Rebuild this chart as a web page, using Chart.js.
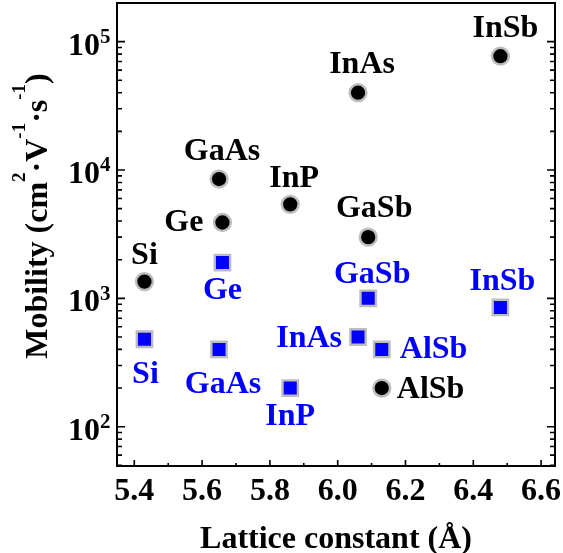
<!DOCTYPE html>
<html>
<head>
<meta charset="utf-8">
<script src="https://cdn.jsdelivr.net/npm/chart.js@4.4.0/dist/chart.umd.min.js"></script>
<style>
  body { margin: 0; background: #fff; }
  canvas { display: block; }
</style>
</head>
<body>
<canvas id="chartMobility" width="563" height="553"></canvas>
<script>
// lattice constant (Å) and room temperature mobilities (cm2/Vs)
const materials = ['Si', 'Ge', 'GaAs', 'InP', 'InAs', 'GaSb', 'AlSb', 'InSb']
const latticeConst = [5.43, 5.66, 5.65, 5.86, 6.06, 6.09, 6.13, 6.48]
const electronMob = [1350, 3900, 8500, 5400, 40000, 3000, 200, 77000]
const holeMob = [480, 1900, 400, 200, 500, 1000, 400, 850]
const xTicks = [5.4, 5.6, 5.8, 6.0, 6.2, 6.4, 6.6]
const yDecades = [2, 3, 4, 5]

// where each name sits next to its marker: [dx, dy to baseline, align]
const electronLabelPos = [
  [0, -18, 'center'], [-19, 9, 'right'], [3, -19, 'center'], [4, -17, 'center'],
  [4, -20, 'center'], [6, -20, 'center'], [15, 10, 'left'], [5, -19, 'center']
]
const holeLabelPos = [
  [1, 44, 'center'], [0, 36, 'center'], [4, 44, 'center'], [0, 37, 'center'],
  [-16, 10, 'right'], [4, -15, 'center'], [18, 9, 'left'], [2, -17, 'center']
]

const FONT = '"Liberation Serif", "Times New Roman", serif'
const BLUE = '#0000ff'

const labelsPlugin = {
  id: 'pointNames',
  afterDatasetsDraw(chart) {
    const ctx = chart.ctx
    const spots = [electronLabelPos, holeLabelPos]
    const colors = ['#000', BLUE]
    ctx.save()
    ctx.font = 'bold 32px ' + FONT
    ctx.textBaseline = 'alphabetic'
    chart.data.datasets.forEach((ds, i) => {
      chart.getDatasetMeta(i).data.forEach((pt, j) => {
        const [dx, dy, align] = spots[i][j]
        ctx.fillStyle = colors[i]
        ctx.textAlign = align
        ctx.fillText(materials[j], pt.x + dx, pt.y + dy)
      })
    })
    ctx.restore()
  }
}

const framePlugin = {
  id: 'frameAndTicks',
  afterDraw(chart) {
    const { ctx, chartArea: a, scales: { x, y } } = chart
    ctx.save()
    ctx.strokeStyle = '#000'
    ctx.lineWidth = 2
    ctx.strokeRect(a.left, a.top, a.right - a.left, a.bottom - a.top)

    // inward ticks: x on the bottom, y on both sides
    ctx.lineWidth = 1.6
    ctx.beginPath()
    xTicks.forEach((v, i) => {
      const px = x.getPixelForValue(v)
      ctx.moveTo(px, a.bottom); ctx.lineTo(px, a.bottom - 6)
      if (i < xTicks.length - 1) {
        const mx = x.getPixelForValue((v + xTicks[i + 1]) / 2)
        ctx.moveTo(mx, a.bottom); ctx.lineTo(mx, a.bottom - 3)
      }
    })
    for (let d = 1; d <= 5; d++) {
      for (let m = 1; m <= 9; m++) {
        const v = m * Math.pow(10, d)
        if (v < y.min || v > y.max) continue
        const py = y.getPixelForValue(v)
        const len = m === 1 ? 8 : 5
        ctx.moveTo(a.left, py); ctx.lineTo(a.left + len, py)
        ctx.moveTo(a.right, py); ctx.lineTo(a.right - len, py)
      }
    }
    ctx.stroke()

    // tick labels
    ctx.fillStyle = '#000'
    ctx.textBaseline = 'alphabetic'
    ctx.font = 'bold 32px ' + FONT
    ctx.textAlign = 'center'
    xTicks.forEach(v => {
      ctx.fillText(v.toFixed(1), x.getPixelForValue(v), a.bottom + 34)
    })
    yDecades.forEach(d => {
      const py = y.getPixelForValue(Math.pow(10, d))
      ctx.font = 'bold 32px ' + FONT
      ctx.textAlign = 'right'
      ctx.fillText('10', a.left - 17, py + 13)
      ctx.font = 'bold 21px ' + FONT
      ctx.textAlign = 'left'
      ctx.fillText(String(d), a.left - 17, py + 1.5)
    })

    // axis titles
    ctx.font = 'bold 32px ' + FONT
    ctx.textAlign = 'center'
    ctx.fillText('Lattice constant (Å)', (a.left + a.right) / 2, a.bottom + 82)

    const parts = [
      ['Mobility (cm', false], ['2', true], ['·V', false], ['-1', true],
      ['·s', false], ['-1', true], [')', false]
    ]
    const fontFor = sup => sup ? 'bold 19px ' + FONT : 'bold 32px ' + FONT
    let total = 0
    parts.forEach(([t, sup]) => { ctx.font = fontFor(sup); total += ctx.measureText(t).width })
    ctx.translate(47, 216)
    ctx.rotate(-Math.PI / 2)
    ctx.textAlign = 'left'
    let pos = -total / 2
    parts.forEach(([t, sup]) => {
      ctx.font = fontFor(sup)
      ctx.fillText(t, pos, sup ? -22 : 0)
      pos += ctx.measureText(t).width
    })
    ctx.restore()
  }
}

const toPoints = ys => latticeConst.map((v, i) => ({ x: v, y: ys[i] }))

const ctx = document.getElementById('chartMobility').getContext('2d')
new Chart(ctx, {
  type: 'scatter',
  data: {
    datasets: [{
      label: 'Electron',
      data: toPoints(electronMob),
      pointStyle: 'circle',
      pointRadius: 8.4,
      pointBorderWidth: 2.5,
      backgroundColor: '#000',
      borderColor: '#bdbdbd'
    }, {
      label: 'Hole',
      data: toPoints(holeMob),
      pointStyle: 'rect',
      pointRadius: 10.9,
      pointBorderWidth: 2.4,
      backgroundColor: BLUE,
      borderColor: '#bdbdbd'
    }]
  },
  options: {
    responsive: false,
    animation: false,
    layout: { autoPadding: false, padding: { left: 117, top: 3, right: 8, bottom: 87 } },
    plugins: {
      legend: { display: false },
      tooltip: { enabled: false }
    },
    scales: {
      x: { type: 'linear', min: 5.349, max: 6.641, display: false },
      y: { type: 'logarithmic', min: 49.4, max: 200000, display: false }
    }
  },
  plugins: [labelsPlugin, framePlugin]
})
</script>
</body>
</html>
